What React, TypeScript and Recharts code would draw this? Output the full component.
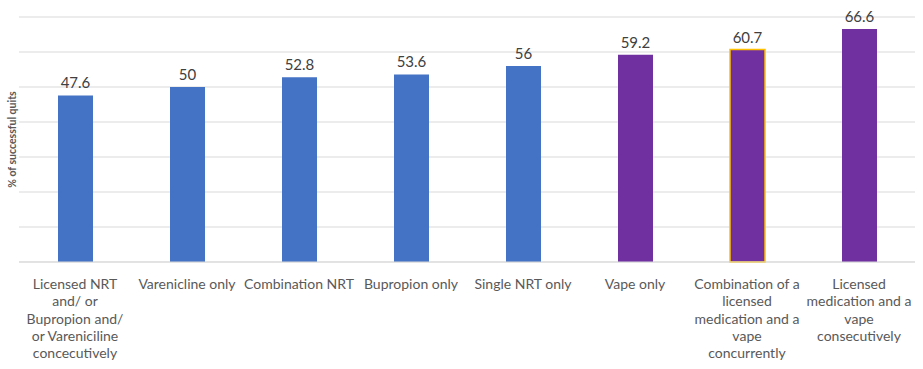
import { Bar, BarChart, CartesianGrid, Cell, LabelList, XAxis, YAxis } from "recharts";

// line breaks follow the wrapped axis labels
const categories = [
  "Licensed NRT\nand/ or\nBupropion and/\nor Vareniciline\nconcecutively",
  "Varenicline only",
  "Combination NRT",
  "Bupropion only",
  "Single NRT only",
  "Vape only",
  "Combination of a\nlicensed\nmedication and a\nvape\nconcurrently",
  "Licensed\nmedication and a\nvape\nconsecutively",
];
const quitRates = [47.6, 50, 52.8, 53.6, 56, 59.2, 60.7, 66.6];
const groups = ["med", "med", "med", "med", "med", "vape", "vape", "vape"];
const yTicks = [0, 10, 20, 30, 40, 50, 60, 70];

const FONT = "Lato, 'Noto Sans', sans-serif";
const groupColors: Record<string, string> = { med: "#4472C4", vape: "#7030A0" };

const data = categories.map((name, i) => ({ name, value: quitRates[i], group: groups[i] }));

const CategoryTick = ({ x, y, payload }: any) => {
  const lines = String(payload.value).split("\n");
  return (
    <text x={x} y={y + 19} textAnchor="middle" fontSize={14} fontFamily={FONT} fill="#595959">
      {lines.map((l, i) => (
        <tspan key={i} x={x} dy={i === 0 ? 0 : 17.3}>
          {l}
        </tspan>
      ))}
    </text>
  );
};

// y ticks are kept for the grid but not drawn
const NoTick = () => <g />;

export default function App() {
  return (
    <div style={{ position: "absolute", left: 0, top: 0, background: "#fff" }}>
      <BarChart
        width={923}
        height={369}
        data={data}
        margin={{ top: 17, right: 8, left: 0, bottom: 0 }}
        barSize={35}
      >
        <CartesianGrid vertical={false} stroke="#D9D9D9" />
        <XAxis
          dataKey="name"
          interval={0}
          height={107}
          axisLine={{ stroke: "#D9D9D9" }}
          tickLine={false}
          tick={<CategoryTick />}
        />
        <YAxis
          width={19}
          domain={[0, 70]}
          ticks={yTicks}
          tick={<NoTick />}
          axisLine={false}
          tickLine={false}
          label={{
            value: "% of successful quits",
            angle: -90,
            position: "center",
            dx: 3,
            style: { fontSize: 10.5, fontWeight: 700, fill: "#595959", fontFamily: FONT },
          }}
        />
        <Bar dataKey="value" isAnimationActive={false}>
          {data.map((d, i) => (
            <Cell
              key={i}
              fill={groupColors[d.group]}
              stroke={i === 6 ? "#FFC000" : "none"}
              strokeWidth={i === 6 ? 1.5 : 0}
            />
          ))}
          <LabelList
            dataKey="value"
            position="top"
            offset={7}
            fill="#404040"
            fontSize={15}
            fontFamily={FONT}
          />
        </Bar>
      </BarChart>
    </div>
  );
}
